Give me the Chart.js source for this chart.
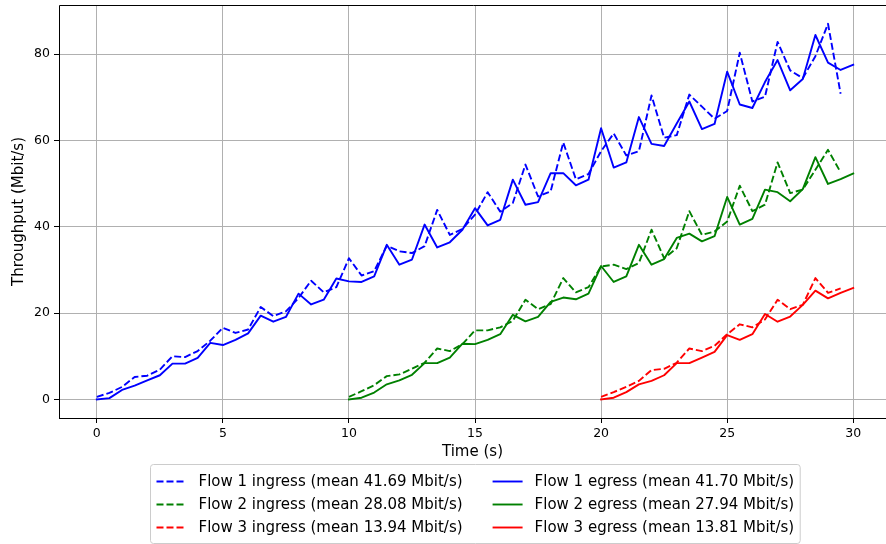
<!DOCTYPE html>
<html><head><meta charset="utf-8">
<script src="https://cdn.jsdelivr.net/npm/chart.js@4/dist/chart.umd.min.js"></script>
<style>html,body{margin:0;padding:0;background:#fff;overflow:hidden}canvas{display:block}</style>
</head><body>
<canvas id="c" width="886" height="544"></canvas>
<script>
// ---- data (seconds, Mbit/s) ----
const time = [0,0.5,1,1.5,2,2.5,3,3.5,4,4.5,5,5.5,6,6.5,7,7.5,8,8.5,9,9.5,
  10,10.5,11,11.5,12,12.5,13,13.5,14,14.5,15,15.5,16,16.5,17,17.5,18,18.5,19,19.5,
  20,20.5,21,21.5,22,22.5,23,23.5,24,24.5,25,25.5,26,26.5,27,27.5,28,28.5,29,29.5,30];

// Flow 1 starts at t=0
const flow1Ingress = [0.6,1.5,2.9,5.2,5.5,6.9,10.0,9.8,11.2,13.6,16.6,15.4,16.2,21.4,19.3,20.4,23.5,27.5,24.8,26.0,
  32.7,28.7,29.7,35.6,34.3,33.9,35.5,43.9,38.1,39.5,42.8,48.0,43.5,45.5,54.4,47.0,48.2,59.5,51.0,52.2,
  57.5,61.6,56.5,57.5,70.4,60.6,61.2,70.6,67.8,65.0,66.8,80.3,69.0,70.1,82.8,76.2,74.4,79.5,87.0,70.8];
const flow1Egress = [0,0.3,2.2,3.2,4.4,5.6,8.3,8.3,9.6,13.1,12.6,13.8,15.3,19.4,18.0,19.1,24.5,22.0,23.1,28.0,
  27.35,27.2,28.5,35.8,31.2,32.4,40.5,35.2,36.4,39.3,44.3,40.3,41.6,50.9,45.1,45.7,52.4,52.4,49.6,50.9,
  62.8,53.7,54.9,65.4,59.2,58.7,63.9,69.0,62.6,63.8,75.9,68.3,67.5,73.5,78.6,71.6,74.2,84.4,78.0,76.3,77.5];
// Flow 2 starts at t=10
const flow2Ingress = [0.6,1.9,3.3,5.4,5.8,7.1,8.5,11.8,11.2,12.8,16.0,16.0,16.7,18.2,23.1,20.9,22.1,28.1,24.8,26.0,
  30.8,31.2,30.2,31.6,39.3,32.7,35.0,43.6,38.1,38.9,41.2,49.5,43.6,45.1,54.9,47.8,48.6,53.2,57.8,52.6];
const flow2Egress = [0,0.4,1.6,3.5,4.4,5.7,8.4,8.4,9.7,12.9,12.8,13.8,15.1,19.6,18.1,19.1,22.6,23.6,23.2,24.5,
  30.9,27.2,28.5,35.8,31.2,32.5,37.4,38.4,36.6,37.8,46.9,40.5,41.8,48.6,48.0,45.9,48.7,56.1,49.9,51.0,52.3];
// Flow 3 starts at t=20
const flow3Ingress = [0.6,1.7,2.9,4.3,6.8,7.1,8.5,11.8,11.2,12.4,15.1,17.4,16.7,18.5,23.1,20.9,21.9,28.1,24.7,25.7];
const flow3Egress = [0,0.4,1.7,3.5,4.3,5.6,8.4,8.4,9.7,11.0,14.9,13.8,15.1,19.8,18.0,19.2,21.9,25.2,23.4,24.7,25.8];

const flowStartIndex = [0, 20, 40];
const flowNames = ['Flow 1', 'Flow 2', 'Flow 3'];
const ingressMeans = ['41.69', '28.08', '13.94'];
const egressMeans = ['41.70', '27.94', '13.81'];
const flowColors = ['#0000ff', '#008000', '#ff0000'];

const xTicks = [0, 5, 10, 15, 20, 25, 30];
const yTicks = [0, 20, 40, 60, 80];

// ---- build ----
const FONT = 'DejaVu Sans';
function pts(start, values) { return values.map((v, i) => ({ x: time[start + i], y: v })); }
const ingressData = [flow1Ingress, flow2Ingress, flow3Ingress];
const egressData = [flow1Egress, flow2Egress, flow3Egress];
const DASH = [7, 3];

const legendItems = [];
const datasets = [];
for (let f = 0; f < 3; f++) {
  const ing = { label: flowNames[f] + ' ingress (mean ' + ingressMeans[f] + ' Mbit/s)', data: pts(flowStartIndex[f], ingressData[f]),
    borderColor: flowColors[f], borderDash: DASH, borderCapStyle: 'butt' };
  const eg = { label: flowNames[f] + ' egress (mean ' + egressMeans[f] + ' Mbit/s)', data: pts(flowStartIndex[f], egressData[f]),
    borderColor: flowColors[f], borderDash: [], borderCapStyle: 'square' };
  legendItems.push(ing, eg);
  datasets.unshift(ing);
  datasets.unshift(eg);
}
datasets.forEach(d => Object.assign(d, { borderWidth: 1.9, pointRadius: 0, tension: 0, fill: false, borderJoinStyle: 'round' }));

const framePlugin = {
  id: 'frame',
  afterDatasetsDraw(chart) {
    const { ctx, chartArea: a } = chart;
    ctx.save();
    ctx.strokeStyle = '#000';
    ctx.lineWidth = 1;
    ctx.beginPath();
    ctx.moveTo(a.left + 0.5, a.bottom + 0.5);
    ctx.lineTo(a.left + 0.5, a.top + 0.5);
    ctx.lineTo(a.right + 1, a.top + 0.5);
    ctx.moveTo(a.left, a.bottom + 0.5);
    ctx.lineTo(a.right + 1, a.bottom + 0.5);
    ctx.stroke();
    ctx.restore();
  }
};

const legendPlugin = {
  id: 'boxLegend',
  afterDraw(chart) {
    const ctx = chart.ctx;
    const fs = 15;
    ctx.save();
    ctx.font = fs + 'px "' + FONT + '"';
    const pad = 0.4 * fs, hLen = 2 * fs, hPad = 0.8 * fs, colSp = 2 * fs, rowH = 23;
    const colItems = [[0, 2, 4], [1, 3, 5]];
    const colW = colItems.map(c => Math.max(...c.map(i => ctx.measureText(legendItems[i].label).width)));
    const W = 2 * pad + 2 * (hLen + hPad) + colW[0] + colW[1] + colSp;
    const H = 79;
    const cx = chart.scales.x.getPixelForValue((-1.5 + 31.5) / 2);
    const left = Math.round(cx - W / 2) + 0.5, top = 464.5;
    ctx.beginPath();
    if (ctx.roundRect) ctx.roundRect(left, top, W, H, 3); else ctx.rect(left, top, W, H);
    ctx.fillStyle = 'rgba(255,255,255,0.8)';
    ctx.fill();
    ctx.strokeStyle = '#cccccc';
    ctx.lineWidth = 1;
    ctx.stroke();
    ctx.textBaseline = 'middle';
    ctx.textAlign = 'left';
    let x = left + pad;
    colItems.forEach((c, ci) => {
      c.forEach((i, r) => {
        const it = legendItems[i];
        const y = 481 + r * rowH;
        ctx.beginPath();
        ctx.setLineDash(it.borderDash);
        ctx.lineCap = it.borderDash.length ? 'butt' : 'butt';
        ctx.strokeStyle = it.borderColor;
        ctx.lineWidth = 1.9;
        ctx.moveTo(x, y + 0.5);
        ctx.lineTo(x + hLen, y + 0.5);
        ctx.stroke();
        ctx.setLineDash([]);
        ctx.fillStyle = '#000';
        ctx.fillText(it.label, x + hLen + hPad, y + 1);
      });
      x += hLen + hPad + colW[ci] + colSp;
    });
    ctx.restore();
  }
};

const gridOpts = { color: '#b0b0b0', lineWidth: 1, tickLength: 5, tickColor: '#000', tickWidth: 1 };

new Chart(document.getElementById('c'), {
  type: 'line',
  data: { datasets },
  options: {
    responsive: false,
    animation: false,
    devicePixelRatio: 1,
    layout: { padding: { top: 5, left: 0, right: 0, bottom: 0 } },
    plugins: { legend: { display: false }, tooltip: { enabled: false } },
    scales: {
      x: {
        type: 'linear', min: -1.5, max: 31.3,
        afterBuildTicks: s => { s.ticks = xTicks.map(v => ({ value: v })); },
        afterFit: s => { s.height = 126; s.paddingLeft = 0; s.paddingRight = 0; },
        grid: gridOpts,
        border: { display: false },
        ticks: { font: { family: FONT, size: 12.5 }, color: '#000', padding: 3, maxRotation: 0, autoSkip: false, callback: v => String(v) },
        title: { display: true, text: 'Time (s)', color: '#000', font: { family: FONT, size: 15 }, padding: { top: 0, bottom: 83 } }
      },
      y: {
        type: 'linear', min: -4.3, max: 91.35,
        afterBuildTicks: s => { s.ticks = yTicks.map(v => ({ value: v })); },
        afterFit: s => { s.width = 59; s.paddingTop = 0; s.paddingBottom = 0; },
        grid: gridOpts,
        border: { display: false },
        ticks: { font: { family: FONT, size: 12.5 }, color: '#000', padding: 4, autoSkip: false, callback: v => String(v) },
        title: { display: true, text: 'Throughput (Mbit/s)', color: '#000', font: { family: FONT, size: 15 }, padding: { top: 10, bottom: 0 } }
      }
    }
  },
  plugins: [framePlugin, legendPlugin]
});
</script>
</body></html>
